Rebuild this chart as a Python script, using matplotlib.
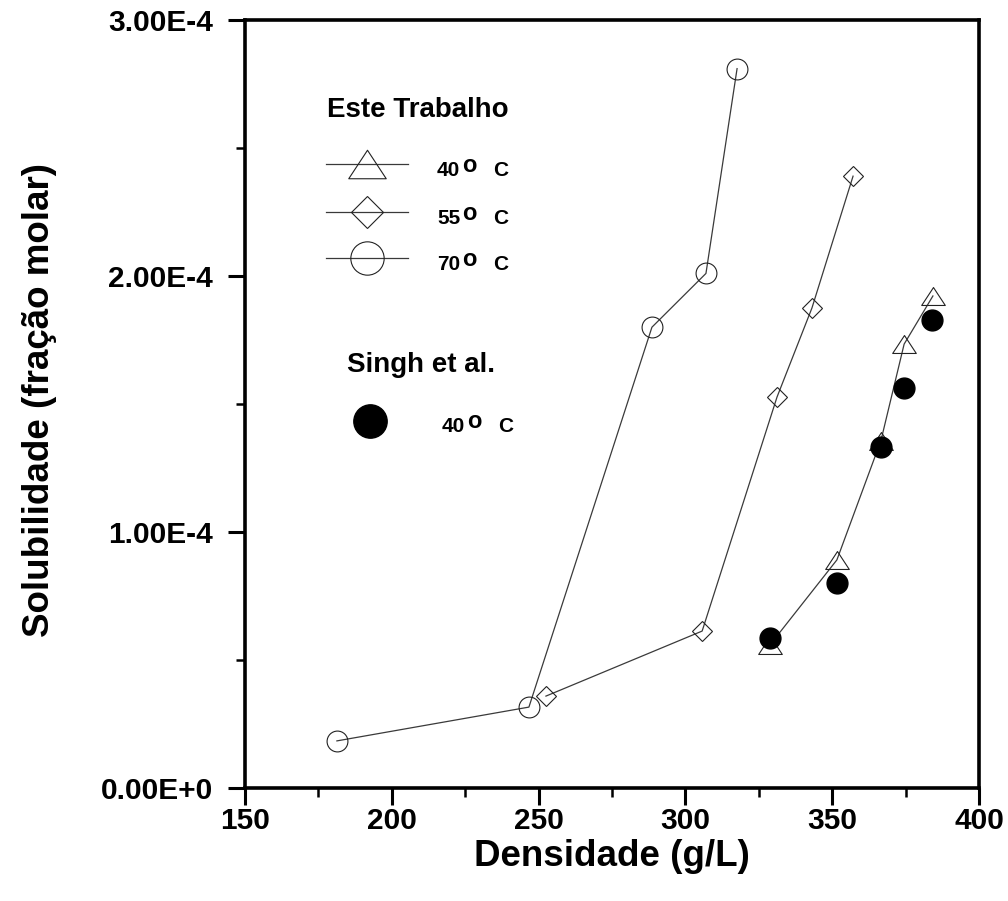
import matplotlib
matplotlib.use("Agg")
import matplotlib.pyplot as plt
from matplotlib.ticker import MultipleLocator
from matplotlib.lines import Line2D
from matplotlib.path import Path

plt.rcParams['font.family'] = ['Liberation Sans', 'DejaVu Sans']
plt.rcParams['font.weight'] = 'bold'

# ---- data ----
dens_70 = [181.3, 246.7, 288.6, 307.0, 317.6]
sol_70 = [0.184e-4, 0.316e-4, 1.80e-4, 2.01e-4, 2.81e-4]

dens_55 = [252.5, 305.7, 331.2, 343.1, 357.1]
sol_55 = [0.359e-4, 0.613e-4, 1.527e-4, 1.875e-4, 2.39e-4]

dens_40 = [328.8, 351.6, 366.6, 374.5, 384.3]
sol_40 = [0.559e-4, 0.891e-4, 1.357e-4, 1.734e-4, 1.922e-4]

dens_singh = [328.8, 351.6, 366.6, 374.5, 384.0]
sol_singh = [0.586e-4, 0.801e-4, 1.332e-4, 1.5625e-4, 1.828e-4]

xticks = [150, 200, 250, 300, 350, 400]
yticks = [0.0, 1.0e-4, 2.0e-4, 3.0e-4]
ytick_labels = ["0.00E+0", "1.00E-4", "2.00E-4", "3.00E-4"]

legend_title_1 = "Este Trabalho"
legend_title_2 = "Singh et al."
legend_temps = ["40", "55", "70"]
singh_temp = "40"
deg_sign = "o"
unit_c = "C"

# ---- figure ----
W, H = 1008, 901
fig = plt.figure(figsize=(W / 100, H / 100), dpi=100)
L, R, T, B = 245, 979, 20, 788
ax = fig.add_axes([L / W, 1 - B / H, (R - L) / W, (B - T) / H])

tri = Path([(-1.0, -0.76), (1.0, -0.76), (0.0, 0.76), (-1.0, -0.76)],
           [Path.MOVETO, Path.LINETO, Path.LINETO, Path.CLOSEPOLY])
line_kw = dict(color='#3a3a3a', lw=0.9)
edge = '#222222'

ax.plot(dens_70, sol_70, marker='o', ms=15, mfc='none', mec=edge, mew=0.8, **line_kw, zorder=2)
ax.plot(dens_55, sol_55, marker='D', ms=10, mfc='none', mec=edge, mew=0.8, **line_kw, zorder=2)
ax.plot(dens_40, sol_40, marker=tri, ms=17, mfc='none', mec=edge, mew=0.8, **line_kw, zorder=2)
ax.plot(dens_singh, sol_singh, ls='none', marker='o', ms=15, mfc='black', mec='black', zorder=3)

ax.set_xlim(150, 400)
ax.set_ylim(0, 3.0e-4)
ax.set_xticks(xticks)
ax.set_xticklabels([str(v) for v in xticks])
ax.set_yticks(yticks)
ax.set_yticklabels(ytick_labels)
ax.xaxis.set_minor_locator(MultipleLocator(25))
ax.yaxis.set_minor_locator(MultipleLocator(0.5e-4))

for s in ax.spines.values():
    s.set_linewidth(2.6)

ax.tick_params(axis='both', which='major', direction='out', length=12, width=2.2, labelsize=21.5)
ax.tick_params(axis='both', which='minor', direction='out', length=6.5, width=1.8)
ax.tick_params(axis='x', which='major', pad=2)
ax.tick_params(axis='y', which='major', pad=11)
ax.tick_params(top=False, right=False, which='both')

ax.set_xlabel("Densidade (g/L)", fontsize=26.5, fontweight='bold', va='center')
ax.xaxis.set_label_coords(0.5, (B - 857) / (B - T))
ax.set_ylabel("Solubilidade (fração molar)", fontsize=26.5, fontweight='bold', va='center')
ax.yaxis.set_label_coords((40 - L) / (R - L), (B - 400) / (B - T))


def af(px, py):
    return ((px - L) / (R - L), (B - py) / (B - T))


def temp_label(px, py, temp):
    ax.text(*af(px, py), temp, transform=ax.transAxes, fontsize=15,
            fontweight='bold', ha='left', va='center')
    ax.text(*af(px + 25, py - 5), deg_sign, transform=ax.transAxes, fontsize=17,
            fontweight='bold', ha='left', va='center')
    ax.text(*af(px + 56, py), unit_c, transform=ax.transAxes, fontsize=15,
            fontweight='bold', ha='left', va='center')


# ---- manual legend ----
ax.text(*af(327, 110), legend_title_1, transform=ax.transAxes, fontsize=20,
        fontweight='bold', ha='left', va='center')
specs = [(tri, 27, 164), ('D', 16, 212), ('o', 24, 258)]
for (mk, ms, py), temp in zip(specs, legend_temps):
    x0, y0 = af(326, py)
    x1, _ = af(408, py)
    xm, _ = af(367, py)
    ax.add_line(Line2D([x0, x1], [y0, y0], transform=ax.transAxes, **line_kw))
    ax.add_line(Line2D([xm], [y0], transform=ax.transAxes, marker=mk, ms=ms,
                       mfc='none', mec=edge, mew=0.8, ls='none'))
    temp_label(437, py + 6, temp)

ax.text(*af(347, 365), legend_title_2, transform=ax.transAxes, fontsize=20,
        fontweight='bold', ha='left', va='center')
ax.add_line(Line2D([af(370, 421)[0]], [af(370, 421)[1]], transform=ax.transAxes,
                   marker='o', ms=24, mfc='black', mec='black', ls='none'))
temp_label(442, 426, singh_temp)

fig.savefig("out.png", dpi=100)
